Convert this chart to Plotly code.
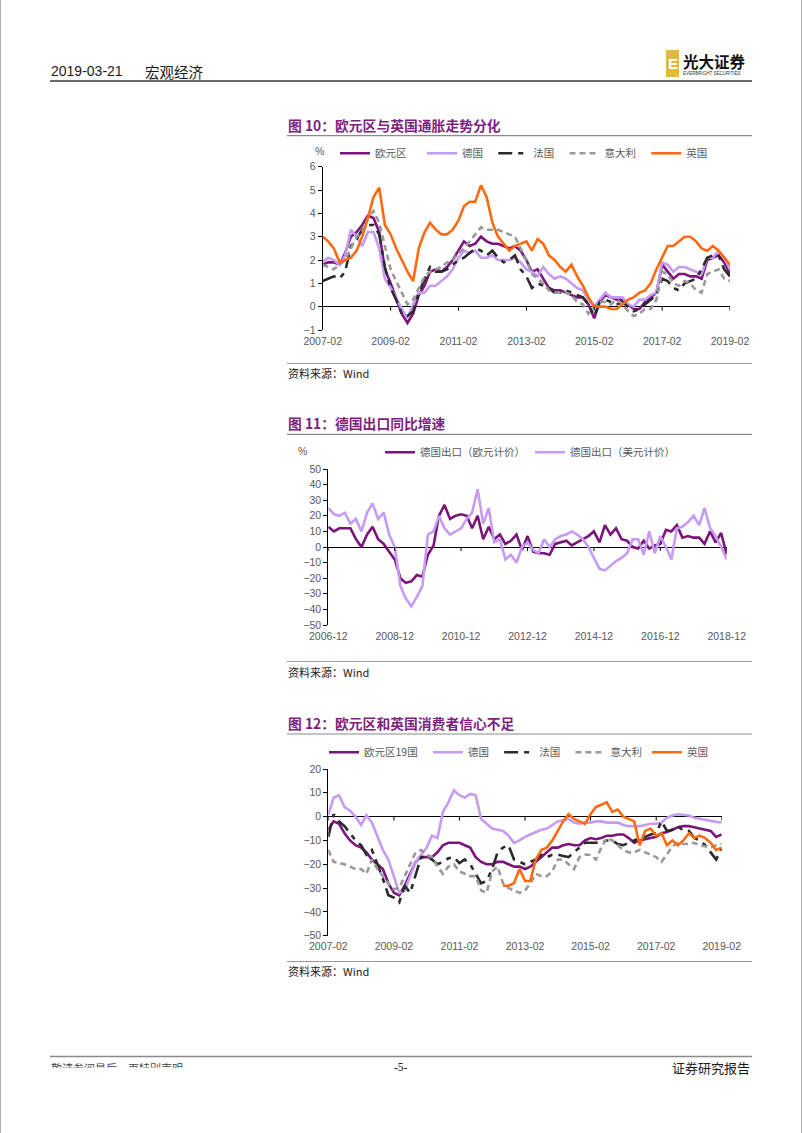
import plotly.graph_objects as go
import pandas as pd

W, H = 802, 1133

# ---------------- data ----------------
# Figure 10: HICP yoy (%), bimonthly readings 2007-02 .. 2019-02
cpi_start = "2007-02-01"
cpi_ez = [1.8, 1.9, 1.9, 1.8, 2.3, 3.0, 3.2, 3.5, 3.9, 3.8, 3.2, 1.6, 1.0, 0.4, -0.3, -0.7, -0.3, 0.5,
          0.9, 1.5, 1.6, 1.5, 1.7, 2.0, 2.4, 2.8, 2.6, 2.7, 3.0, 2.8, 2.7, 2.7, 2.6, 2.5, 2.6, 2.4, 2.0,
          1.5, 1.6, 1.2, 0.8, 0.7, 0.7, 0.6, 0.5, 0.4, 0.4, 0.1, -0.5, 0.2, 0.5, 0.4, 0.3, 0.3, 0.1,
          -0.1, -0.1, 0.2, 0.4, 0.6, 1.8, 1.5, 1.2, 1.4, 1.4, 1.3, 1.3, 1.2, 2.0, 2.1, 2.2, 1.9, 1.4]
cpi_de = [1.9, 2.1, 2.0, 1.8, 2.2, 3.3, 3.0, 2.6, 3.2, 3.2, 2.5, 1.2, 0.8, 0.4, -0.1, -0.5, 0.1, 0.6,
          0.6, 0.9, 0.9, 1.1, 1.3, 1.6, 2.1, 2.4, 2.3, 2.4, 2.1, 2.1, 2.2, 2.0, 2.0, 2.0, 2.1, 1.9, 1.6,
          1.5, 1.3, 1.7, 1.4, 1.2, 1.3, 1.2, 1.0, 0.8, 0.7, 0.3, 0.0, 0.3, 0.6, 0.4, 0.4, 0.4, 0.1,
          0.0, 0.3, 0.3, 0.5, 0.6, 1.9, 1.8, 1.5, 1.7, 1.7, 1.6, 1.5, 1.4, 2.1, 2.1, 2.4, 2.1, 1.6]
cpi_fr = [1.1, 1.2, 1.3, 1.2, 1.5, 2.6, 2.9, 3.3, 3.5, 3.5, 3.1, 1.7, 0.8, 0.3, -0.3, -0.4, -0.2, 0.6,
          1.2, 1.7, 1.5, 1.5, 1.6, 1.8, 2.0, 2.1, 2.3, 2.5, 2.4, 2.2, 2.4, 2.1, 1.9, 2.0, 2.2, 1.6, 1.3,
          0.8, 1.0, 0.9, 0.8, 0.6, 0.6, 0.7, 0.6, 0.5, 0.4, 0.1, -0.4, 0.2, 0.3, 0.2, 0.1, 0.2, 0.0,
          -0.2, -0.1, 0.1, 0.3, 0.5, 1.2, 1.1, 0.8, 0.7, 1.0, 1.1, 1.2, 1.6, 2.1, 2.2, 2.2, 1.6, 1.3]
cpi_it = [1.8, 1.7, 1.6, 1.8, 2.0, 2.5, 3.0, 3.2, 3.8, 4.1, 3.6, 2.6, 1.6, 1.1, 0.6, 0.1, 0.3, 0.8,
          1.3, 1.5, 1.6, 1.7, 1.9, 2.0, 2.3, 2.5, 2.8, 3.1, 3.4, 3.3, 3.3, 3.3, 3.2, 3.1, 3.0, 2.5, 2.0,
          1.4, 1.2, 1.0, 0.7, 0.6, 0.6, 0.6, 0.5, 0.2, 0.1, -0.3, 0.0, 0.2, 0.2, 0.1, 0.3, 0.1, -0.2,
          -0.4, -0.3, -0.1, -0.1, 0.3, 1.5, 1.4, 1.0, 0.9, 1.1, 1.0, 0.7, 0.6, 1.4, 1.5, 1.6, 1.2, 1.1]
cpi_uk = [3.0, 2.8, 2.5, 1.9, 2.0, 2.1, 2.4, 3.0, 3.8, 4.7, 5.1, 3.5, 3.1, 2.5, 2.0, 1.5, 1.1, 2.5,
          3.2, 3.6, 3.3, 3.1, 3.1, 3.3, 3.7, 4.3, 4.5, 4.5, 5.2, 4.7, 3.6, 3.0, 2.7, 2.4, 2.6, 2.7, 2.8,
          2.4, 2.9, 2.7, 2.2, 2.0, 1.7, 1.5, 1.8, 1.3, 0.9, 0.4, 0.0, 0.0, 0.0, -0.1, -0.1, 0.1, 0.3,
          0.4, 0.6, 0.7, 1.0, 1.6, 2.1, 2.6, 2.6, 2.8, 3.0, 3.0, 2.8, 2.5, 2.4, 2.6, 2.4, 2.1, 1.8]
cpi_ticks = ["2007-02", "2009-02", "2011-02", "2013-02", "2015-02", "2017-02", "2019-02"]

# Figure 11: German exports yoy (%), bimonthly readings 2006-12 .. 2018-12
exp_start = "2006-12-01"
exp_eur = [13, 10, 12, 12, 12, 5, 0, 8, 13, 5, 2, -3, -8, -20, -23, -22, -18, -19, -5, 1, 20, 27, 18,
           20, 21, 20, 12, 20, 5, 13, 5, 8, 2, 4, 8, -2, 7,
           -3, -4, -4, -5, 2, 3, 4, 1, 3, 5, 7, 10, 3, 14, 8, 12, 5, 4, 0, -1, 4, -1, 1, 2,
           11, 10, 14, 6, 7, 6, 6, 2, 10, 3, 9, -5]
exp_usd = [25, 21, 20, 22, 15, 18, 10, 22, 28, 18, 22, 8, 0, -25, -33, -38, -32, -25, 8, 10, 20, 12,
           8, 10, 12, 18, 22, 37, 15, 25, 3, 5, -8, -5, -10, 0, 3,
           -2, -4, 5, 0, 5, 7, 8, 10, 8, 5, 0, -7, -14, -15, -12, -9, -7, -4, 5, 5, -5, 10, -4, 7,
           0, -8, 12, 13, 16, 20, 14, 25, 12, 7, 0, -8]
exp_ticks = ["2006-12", "2008-12", "2010-12", "2012-12", "2014-12", "2016-12", "2018-12"]

# Figure 12: consumer confidence, bimonthly readings 2007-02 .. 2019-02
cc_start = "2007-02-01"
cc_ez = [-5.5, -2, -3, -7, -10, -12, -13, -15, -18, -20, -22, -28, -32, -33, -29, -24, -19, -17,
         -17, -17, -15, -12, -11, -11, -11, -12, -13, -17, -19, -20, -20, -19, -19, -20, -21, -21,
         -22, -21, -19, -17, -15, -13, -13, -12, -11.5, -12, -12, -10, -9, -9.5, -9, -8, -8, -7.5,
         -7.5, -9, -11, -10, -9.5, -9, -8.5, -7, -6.5, -5.5, -4.5, -4, -4, -4.5, -5, -5.5, -6, -8.5,
         -7.5]
cc_de = [0.7, 8, 9, 4, 2.5, 0, -3.5, 0.5, -2.5, -8, -14, -18, -25, -32, -31, -25, -19, -16,
         -13, -8, -9, 2, 6, 11, 9, 8, 9.5, 9, -1, -3, -5, -5.5, -6, -8, -11, -10,
         -8.5, -7.5, -6.5, -5.5, -5, -3.5, -2, -1.5, -1, -2.5, -3, -2.5, -2.5, -2, -2, -2.5, -2.5, -2.5,
         -3.5, -4, -4, -4, -3.5, -3, -3, -2.5, -0.5, 0.5, 1, 0.8, 0.5, -0.5, -1, -1.5, -2, -2.2,
         -2.5]
cc_fr = [-8.5, 1, -2, -4, -7, -10, -12, -16, -14, -20, -26, -33, -34, -36, -29, -32, -24, -17,
         -17, -18, -20, -19, -17.5, -17, -19.5, -18, -20, -24, -28, -27, -22, -15, -13, -12, -18, -19,
         -20, -19, -18, -16, -17, -16, -16, -16.5, -17, -15, -13, -11, -11, -11, -10.5, -10, -10, -11.5,
         -12, -11, -10, -9, -8.5, -7.5, -7, -2, -6, -5.5, -4, -6, -6, -9, -10, -12, -15, -18,
         -13]
cc_it = [-14, -19, -19.5, -20, -21, -22, -22, -24, -18, -22, -25, -28, -30.5, -30, -25, -20, -15, -14,
         -16, -17, -21, -24, -21, -20, -23, -24, -25, -25, -31, -32, -23, -21, -28, -30, -31, -32,
         -31, -28, -24, -25, -25, -23, -18, -18, -20, -22, -17, -16, -16, -18, -13, -9, -10, -12,
         -14, -15, -15, -14, -15, -16, -17, -19, -16, -12.5, -11, -11.5, -11.5, -11, -12, -12.5, -13, -12,
         -11.5]
cc_uk = [None] * 32 + [-29, -29, -28, -22, -27, -27, -18, -14, -13, -10, -6, -2, 1, -1, -2, -3,
                       1, 4, 5, 6, 2, 3, 0, -1, -2, -12, -6, -5, -8, -7, -12, -10, -12, -10,
                       -7, -9, -8, -9, -11, -14, -13]
cc_ticks = ["2007-02", "2009-02", "2011-02", "2013-02", "2015-02", "2017-02", "2019-02"]

# ---------------- styling ----------------
C_EZ = "#7B147B"
C_DE = "#C59BF3"
C_FR = "#2B2B2B"
C_IT = "#9A9A9A"
C_UK = "#FF6A0E"
LW = 2.6
DASH_FR = "14px,6px,5px,6px"
DASH_IT = "6px,4px"
TITLE_C = "#7F1F7F"
LAT = "Liberation Sans, Arial, Noto Sans CJK SC"
CJK = "Noto Sans CJK SC, Liberation Sans"
TICK_FONT = dict(family=LAT, size=10.5, color="#595959")
PAD = "\u2002"   # visual spacing after legend labels


def px_x(p):
    return p / W


def px_y(p):
    return 1 - p / H


fig = go.Figure()


def add_series(dates, vals, name, color, dash, xa, ya, leg):
    fig.add_trace(go.Scatter(x=dates, y=vals, mode="lines", name=name,
                             line=dict(color=color, width=LW, dash=dash),
                             xaxis=xa, yaxis=ya, legend=leg, connectgaps=False,
                             hoverinfo="skip"))


d1 = pd.date_range(cpi_start, periods=len(cpi_ez), freq="2MS")
d2 = pd.date_range(exp_start, periods=len(exp_eur), freq="2MS")
d3 = pd.date_range(cc_start, periods=len(cc_ez), freq="2MS")

add_series(d1, cpi_ez, "欧元区" + PAD + PAD, C_EZ, "solid", "x", "y", "legend")
add_series(d1, cpi_de, "德国" + PAD, C_DE, "solid", "x", "y", "legend")
add_series(d1, cpi_fr, "法国" + PAD, C_FR, DASH_FR, "x", "y", "legend")
add_series(d1, cpi_it, "意大利" + PAD, C_IT, DASH_IT, "x", "y", "legend")
add_series(d1, cpi_uk, "英国", C_UK, "solid", "x", "y", "legend")

add_series(d2, exp_eur, "德国出口（欧元计价）", C_EZ, "solid", "x2", "y2", "legend2")
add_series(d2, exp_usd, "德国出口（美元计价）", C_DE, "solid", "x2", "y2", "legend2")

add_series(d3, cc_ez, "欧元区19国" + PAD, C_EZ, "solid", "x3", "y3", "legend3")
add_series(d3, cc_de, "德国" + PAD, C_DE, "solid", "x3", "y3", "legend3")
add_series(d3, cc_fr, "法国" + PAD, C_FR, DASH_FR, "x3", "y3", "legend3")
add_series(d3, cc_it, "意大利", C_IT, DASH_IT, "x3", "y3", "legend3")
add_series(d3, cc_uk, "英国", C_UK, "solid", "x3", "y3", "legend3")


def xaxis_cfg(x0, x1, start, end, ticks):
    return dict(domain=[px_x(x0), px_x(x1)], range=[start, end], type="date",
                tickvals=pd.to_datetime(ticks, format="%Y-%m"), ticktext=ticks,
                showline=False, showgrid=False, zeroline=False, ticks="",
                ticklabelstandoff=3,
                tickfont=TICK_FONT, fixedrange=True, automargin=False)


def yaxis_cfg(ytop, ybot, lo, hi, dt, anchor):
    return dict(domain=[px_y(ybot), px_y(ytop)], range=[lo, hi], dtick=dt, tick0=0,
                anchor=anchor, showline=True, linecolor="black", linewidth=1,
                ticks="outside", ticklen=4, tickcolor="black", tickwidth=1,
                showgrid=False, zeroline=True, zerolinecolor="black", zerolinewidth=1.4,
                tickfont=TICK_FONT, fixedrange=True, automargin=False)


def legend_cfg(x, y):
    return dict(orientation="h", x=px_x(x), y=px_y(y), xanchor="left", yanchor="middle",
                font=dict(family=CJK, size=10.5, color="#595959"), bgcolor="rgba(0,0,0,0)",
                itemwidth=30, traceorder="normal", itemclick=False, itemdoubleclick=False)


fig.update_layout(
    width=W, height=H, autosize=False,
    margin=dict(l=0, r=0, t=0, b=0, pad=0, autoexpand=False),
    paper_bgcolor="white", plot_bgcolor="white", showlegend=True,
    xaxis=dict(xaxis_cfg(322.7, 730, "2007-02-01", "2019-02-01", cpi_ticks), anchor="y"),
    yaxis=yaxis_cfg(166.7, 330, -1, 6, 1, "x"),
    xaxis2=dict(xaxis_cfg(328.3, 726.7, "2006-12-01", "2018-12-01", exp_ticks), anchor="y2"),
    yaxis2=yaxis_cfg(469, 625, -50, 50, 10, "x2"),
    xaxis3=dict(xaxis_cfg(328.3, 721.7, "2007-02-01", "2019-02-01", cc_ticks), anchor="y3"),
    yaxis3=yaxis_cfg(769, 935.7, -50, 20, 10, "x3"),
    legend=legend_cfg(335, 153.3),
    legend2=legend_cfg(380, 452.3),
    legend3=legend_cfg(324, 752.3),
)

shapes = []
# tick marks on the zero line (category axis crossing at 0)
for xa, ya, ticks in (("x", "y", cpi_ticks), ("x2", "y2", exp_ticks), ("x3", "y3", cc_ticks)):
    for t in pd.to_datetime(ticks, format="%Y-%m"):
        shapes.append(dict(type="line", xref=xa, yref=ya, x0=t, x1=t, ysizemode="pixel",
                           yanchor=0, y0=0, y1=-4, line=dict(color="black", width=1)))


def hline(y, x0, x1, color, width):
    shapes.append(dict(type="line", xref="paper", yref="paper", x0=px_x(x0), x1=px_x(x1),
                       y0=px_y(y), y1=px_y(y), line=dict(color=color, width=width)))


hline(81, 50, 752, "#3a3a3a", 1.6)
for y in (135.7, 434.3, 734):
    hline(y, 287, 752, "#8a8a8a", 1.2)
for y in (363.5, 661.5, 961.5):
    hline(y, 287, 752, "#9a9a9a", 1)
hline(1056.5, 50, 752, "#8a8a8a", 1.5)
# page side borders
for x in (0.5, 801.5):
    shapes.append(dict(type="line", xref="paper", yref="paper", x0=px_x(x), x1=px_x(x),
                       y0=0, y1=1, line=dict(color="#b0b0b0", width=1)))
# logo block
shapes.append(dict(type="rect", xref="paper", yref="paper", x0=px_x(666), x1=px_x(679),
                   y0=px_y(77), y1=px_y(50), fillcolor="#E2B93B", line=dict(width=0)))
fig.update_layout(shapes=shapes)

ann = []


def text(x, y, s, size, color, family, anchor="left", bold=False, **kw):
    if bold:
        s = "<b>" + s + "</b>"
    ann.append(dict(xref="paper", yref="paper", x=px_x(x), y=px_y(y), text=s, showarrow=False,
                    xanchor=anchor, yanchor="middle", font=dict(size=size, color=color, family=family),
                    **kw))


text(49, 71, "2019-03-21", 14, "#1a1a1a", LAT)
text(143, 71, "宏观经济", 14.5, "#1a1a1a", CJK)
text(672.5, 63.5, "E", 15, "white", LAT, anchor="center", bold=True)
text(681, 61, "光大证券", 15.5, "#111111", CJK, bold=True)
text(681, 73.5, "EVERBRIGHT SECURITIES", 4.5, "#333333", LAT)

text(286, 125, "图 10：欧元区与英国通胀走势分化", 13.8, TITLE_C, CJK, bold=True)
text(286, 423, "图 11：德国出口同比增速", 13.8, TITLE_C, CJK, bold=True)
text(286, 722.7, "图 12：欧元区和英国消费者信心不足", 13.8, TITLE_C, CJK, bold=True)

text(319, 151, "%", 10.5, "#595959", LAT, anchor="center")
text(302, 451, "%", 10.5, "#595959", LAT, anchor="center")

for y in (373, 671.5, 970.5):
    text(286, y, "资料来源：Wind", 11, "#1a1a1a", CJK)

# footer
text(49, 1068, "敬请参阅最后一页特别声明", 11, "#444444", CJK)
ann.append(dict(xref="paper", yref="paper", x=px_x(45), y=px_y(1066.5), text=" ", showarrow=False,
                xanchor="left", yanchor="top", width=170, height=14, bgcolor="white",
                font=dict(size=8)))
text(401, 1067, "-5-", 11.5, "#1a1a1a", "Liberation Serif", anchor="center")
text(752, 1067, "证券研究报告", 13, "#1a1a1a", CJK, anchor="right")

fig.update_layout(annotations=ann)

fig.write_html("out.html", config={"responsive": False, "displayModeBar": False},
               post_script="document.body.style.margin='0px';"
                           "document.body.style.overflow='hidden';")
